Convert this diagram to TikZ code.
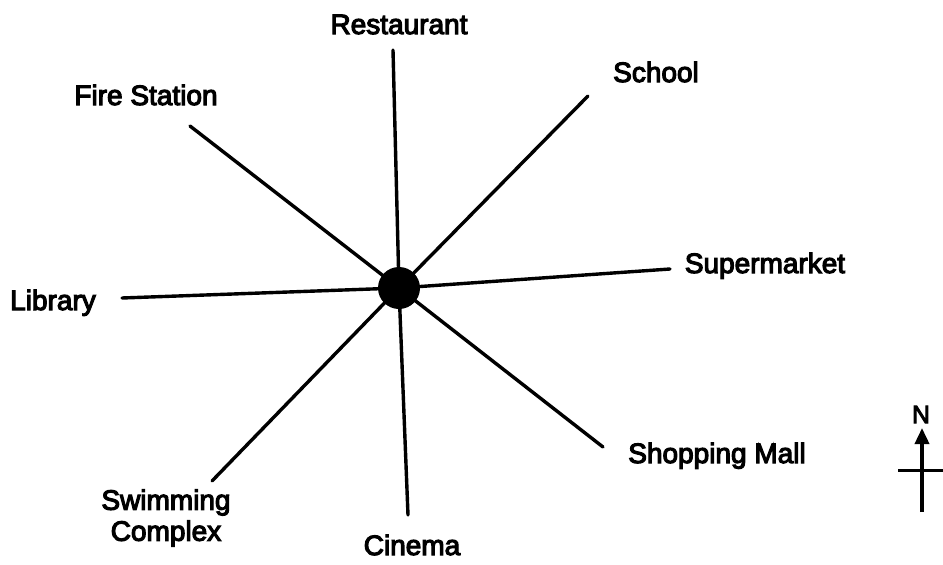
\documentclass[tikz,border=0pt]{standalone}
\usepackage{fontspec}
\usepackage{tikz}
\usetikzlibrary{arrows.meta, positioning}
\newfontfamily\placefont[FakeBold=4]{Liberation Sans}

\begin{document}
\begin{tikzpicture}[
    x=1pt, y=-1pt,
    road/.style={line width=3.4pt, line cap=round, draw=black},
    place/.style={font=\placefont\fontsize{28}{31}\selectfont, inner sep=0pt, align=center},
    hubdot/.style={circle, fill=black, minimum size=42pt, inner sep=0pt},
    narr/.style={-{Triangle[length=16pt, width=14pt]}, line width=3.6pt}
]
\useasboundingbox (0,0) rectangle (943,565);

% Hub
\node[hubdot] (hub) at (399,288) {};

% Free ends of the roads
\coordinate (restEnd) at (393,50);
\coordinate (schoolEnd) at (588,96);
\coordinate (fireEnd) at (190,126);
\coordinate (superEnd) at (670,269);
\coordinate (libEnd) at (122,298);
\coordinate (mallEnd) at (603,447);
\coordinate (swimEnd) at (212,481);
\coordinate (cinemaEnd) at (408,515);

% Roads
\draw[road] (hub.center) -- (restEnd);
\draw[road] (hub.center) -- (schoolEnd);
\draw[road] (hub.center) -- (fireEnd);
\draw[road] (hub.center) -- (superEnd);
\draw[road] (hub.center) -- (libEnd);
\draw[road] (hub.center) -- (mallEnd);
\draw[road] (hub.center) -- (swimEnd);
\draw[road] (hub.center) -- (cinemaEnd);

% Places
\node[place, anchor=base] (rest) at (399,34) {Restaurant};
\node[place, anchor=base] (school) at (656,82) {School};
\node[place, anchor=base] (fire) at (146,105) {Fire Station};
\node[place, anchor=base] (super) at (765,273) {Supermarket};
\node[place, anchor=base] (lib) at (53,310) {Library};
\node[place, anchor=base] (mall) at (717,463) {Shopping Mall};
\node[place] (swim) at (166,518) {Swimming\\Complex};
\node[place, anchor=base] (cinema) at (412,555) {Cinema};

% North sign
\coordinate (nBot) at (922,512);
\coordinate (nTop) at (922,428);
\coordinate (barL) at (898,470);
\coordinate (barR) at (943,470);
\draw[narr] (nBot) -- (nTop);
\draw[line width=3pt] (barL) -- (barR);
\node[font=\placefont\fontsize{25}{27}\selectfont, inner sep=0pt, anchor=base] (north) at (921,423) {N};

\end{tikzpicture}
\end{document}
